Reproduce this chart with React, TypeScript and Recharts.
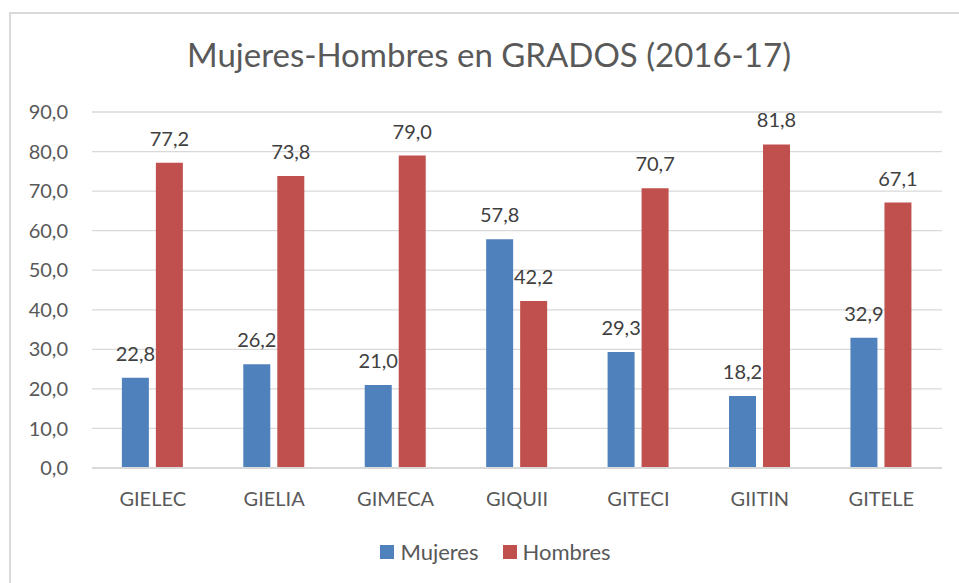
import React from 'react';
import { BarChart, Bar, XAxis, YAxis, CartesianGrid, Legend, LabelList } from 'recharts';

const categories = ['GIELEC', 'GIELIA', 'GIMECA', 'GIQUII', 'GITECI', 'GIITIN', 'GITELE'];
const mujeres = [22.8, 26.2, 21.0, 57.8, 29.3, 18.2, 32.9];
const hombres = [77.2, 73.8, 79.0, 42.2, 70.7, 81.8, 67.1];
const yTicks = [0, 10, 20, 30, 40, 50, 60, 70, 80, 90];
const seriesOrder = ['Mujeres', 'Hombres'];
const title = 'Mujeres-Hombres en GRADOS (2016-17)';

const data = categories.map((c, i) => ({ name: c, Mujeres: mujeres[i], Hombres: hombres[i] }));

const fmt = (v: any) => Number(v).toFixed(1).replace('.', ',');
const FONT = 'Lato, "Noto Sans", sans-serif';

const LegendContent = (props: any) => {
  const payload = [...(props.payload || [])].sort(
    (a: any, b: any) => seriesOrder.indexOf(a.value) - seriesOrder.indexOf(b.value)
  );
  return (
    <div style={{ width: 959, height: 40, display: 'flex', justifyContent: 'center', paddingLeft: 32, boxSizing: 'border-box', fontFamily: FONT }}>
      {payload.map((p: any, i: number) => (
        <div key={i} style={{ display: 'flex', alignItems: 'center', height: 18, marginRight: i === 0 ? 24 : 0 }}>
          <div style={{ width: 14, height: 14, background: p.color, marginRight: 6 }} />
          <span style={{ fontSize: 22, color: '#595959', lineHeight: '18px' }}>{p.value}</span>
        </div>
      ))}
    </div>
  );
};

export default function App() {
  return (
    <div style={{ position: 'absolute', left: 0, top: 0, width: 959, height: 583, background: '#fff', overflow: 'hidden' }}>
      <div style={{ position: 'absolute', left: 9, top: 12, width: 960, height: 580, borderTop: '2px solid #D9D9D9', borderLeft: '2px solid #D9D9D9' }} />
      <div style={{ position: 'absolute', left: 0, top: 38, width: 978, textAlign: 'center', fontFamily: FONT, fontSize: 33, lineHeight: '33px', color: '#595959' }}>
        {title}
      </div>
      <div style={{ position: 'absolute', left: 0, top: 0 }}>
        <BarChart width={959} height={583} data={data} margin={{ top: 112, right: 17, bottom: 0, left: 0 }} barCategoryGap="24.6%" barGap={7}>
          <CartesianGrid vertical={false} stroke="#D9D9D9" strokeWidth={1.3} />
          <XAxis dataKey="name" height={75} tickSize={0} tickMargin={24} axisLine={{ stroke: '#D9D9D9', strokeWidth: 2 }} tickLine={false}
            tick={{ fill: '#595959', fontSize: 20, fontFamily: FONT }} interval={0} />
          <YAxis width={92} domain={[0, 90]} ticks={yTicks} tickFormatter={fmt} axisLine={false} tickLine={false} tickSize={0} tickMargin={24}
            tick={{ fill: '#595959', fontSize: 20, fontFamily: FONT }} />
          <Legend verticalAlign="bottom" align="center" content={<LegendContent />} />
          <Bar dataKey="Mujeres" fill="#4F81BD" isAnimationActive={false}>
            <LabelList dataKey="Mujeres" position="top" offset={17} formatter={fmt} fill="#404040" fontSize={20} fontFamily={FONT} />
          </Bar>
          <Bar dataKey="Hombres" fill="#C0504D" isAnimationActive={false}>
            <LabelList dataKey="Hombres" position="top" offset={17} formatter={fmt} fill="#404040" fontSize={20} fontFamily={FONT} />
          </Bar>
        </BarChart>
      </div>
    </div>
  );
}
